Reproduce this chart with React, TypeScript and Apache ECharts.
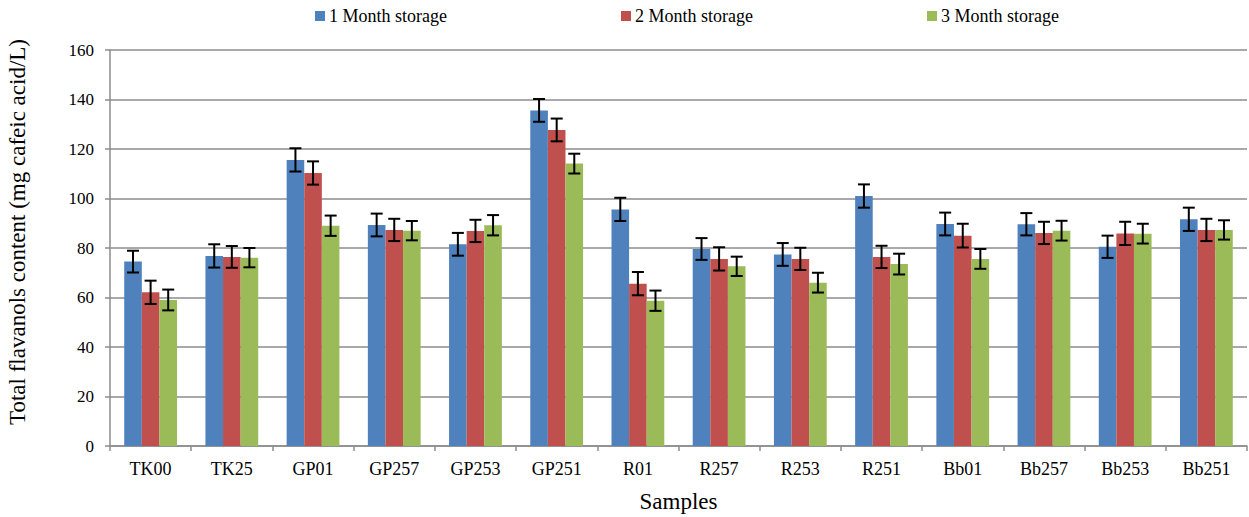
import React, { useEffect, useRef } from "react";
import * as echarts from "echarts";

const categories = ["TK00", "TK25", "GP01", "GP257", "GP253", "GP251", "R01", "R257", "R253", "R251", "Bb01", "Bb257", "Bb253", "Bb251"];
const seriesNames = ["1 Month storage", "2 Month storage", "3 Month storage"];
const month1 = [74.5, 76.8, 115.6, 89.3, 81.5, 135.6, 95.6, 79.6, 77.4, 101.0, 89.7, 89.6, 80.5, 91.6];
const month2 = [62.1, 76.4, 110.3, 87.3, 86.9, 127.7, 65.6, 75.6, 75.6, 76.4, 85.0, 86.1, 85.9, 87.3];
const month3 = [59.0, 76.1, 89.0, 87.0, 89.2, 114.1, 58.7, 72.6, 66.0, 73.5, 75.6, 87.0, 85.8, 87.3];
const err1 = [4.4, 4.7, 4.7, 4.6, 4.6, 4.6, 4.7, 4.4, 4.6, 4.7, 4.6, 4.5, 4.5, 4.7];
const err2 = [4.7, 4.4, 4.7, 4.5, 4.5, 4.6, 4.7, 4.7, 4.5, 4.5, 4.8, 4.5, 4.7, 4.5];
const err3 = [4.2, 3.9, 4.1, 3.9, 4.1, 4.0, 4.1, 3.9, 4.0, 4.2, 4.0, 4.0, 4.0, 3.9];
const yTicks = [0, 20, 40, 60, 80, 100, 120, 140, 160];

const colors = ["#4F81BD", "#C0504D", "#9BBB59"];
const FONT = "Liberation Serif";
const GRID_GRAY = "#8c8c8c";
const CAT_GAP = 0.35;

export default function App() {
  const ref = useRef<HTMLDivElement>(null);
  useEffect(() => {
    if (!ref.current) return;
    const chart = echarts.init(ref.current, null, { renderer: "svg" });
    const values = [month1, month2, month3];
    const errs = [err1, err2, err3];

    const barSeries = values.map((vals, i) => ({
      name: seriesNames[i],
      type: "bar",
      data: vals,
      barGap: "0%",
      barCategoryGap: CAT_GAP * 100 + "%",
      itemStyle: { color: colors[i] },
      z: 2,
    }));

    const errSeries = values.map((vals, s) => ({
      name: seriesNames[s] + " error",
      type: "custom",
      data: vals.map((v, k) => [k, v, errs[s][k]]),
      encode: { x: 0, y: 1 },
      z: 5,
      silent: true,
      renderItem: (params: any, api: any) => {
        const idx = api.value(0);
        const v = api.value(1);
        const e = api.value(2);
        const top = api.coord([idx, v + e]);
        const bot = api.coord([idx, v - e]);
        const cw = api.size([1, 0])[0];
        const bw = (cw * (1 - CAT_GAP)) / 3;
        const x = top[0] + (s - 1) * bw;
        const half = 6;
        const style = { stroke: "#000", lineWidth: 2 };
        return {
          type: "group",
          children: [
            { type: "line", shape: { x1: x, y1: top[1], x2: x, y2: bot[1] }, style },
            { type: "line", shape: { x1: x - half, y1: top[1], x2: x + half, y2: top[1] }, style },
            { type: "line", shape: { x1: x - half, y1: bot[1], x2: x + half, y2: bot[1] }, style },
          ],
        };
      },
    }));

    const legendLefts = [315, 621, 927];

    chart.setOption({
      animation: false,
      textStyle: { fontFamily: FONT },
      legend: seriesNames.map((n, i) => ({
        data: [n],
        left: legendLefts[i],
        top: 7,
        padding: 0,
        itemWidth: 10,
        itemHeight: 10,
        itemGap: 4,
        icon: "rect",
        textStyle: { fontFamily: FONT, fontSize: 18, color: "#000", padding: [0, 0, 0, -1] },
      })),
      grid: { left: 110, right: 2, top: 50, bottom: 71, containLabel: false, outerBoundsMode: "none" },
      xAxis: {
        type: "category",
        data: categories,
        boundaryGap: true,
        axisLine: { lineStyle: { color: GRID_GRAY, width: 1.5 } },
        axisTick: { show: true, length: 5, lineStyle: { color: GRID_GRAY, width: 1.5 } },
        axisLabel: { fontFamily: FONT, fontSize: 18, color: "#000", margin: 14 },
        name: "Samples",
        nameLocation: "middle",
        nameGap: 44,
        nameTextStyle: { fontFamily: FONT, fontSize: 23, color: "#000" },
      },
      yAxis: {
        type: "value",
        min: yTicks[0],
        max: yTicks[yTicks.length - 1],
        interval: 20,
        axisLine: { show: true, lineStyle: { color: GRID_GRAY, width: 1.5 } },
        axisTick: { show: true, length: 5, lineStyle: { color: GRID_GRAY, width: 1.5 } },
        splitLine: { lineStyle: { color: GRID_GRAY, width: 1.5 } },
        axisLabel: { fontFamily: FONT, fontSize: 17, color: "#000", margin: 16 },
      },
      graphic: [
        {
          type: "text",
          x: 17,
          y: 232,
          rotation: Math.PI / 2,
          style: {
            text: "Total flavanols content (mg cafeic acid/L)",
            fontFamily: FONT,
            fontSize: 23,
            fill: "#000",
            align: "center",
            verticalAlign: "middle",
          },
        },
      ],
      series: [...barSeries, ...errSeries],
    });
    return () => chart.dispose();
  }, []);
  return (
    <div
      ref={ref}
      style={{ position: "fixed", left: 0, top: 0, width: 1249, height: 517, background: "#fff" }}
    />
  );
}
